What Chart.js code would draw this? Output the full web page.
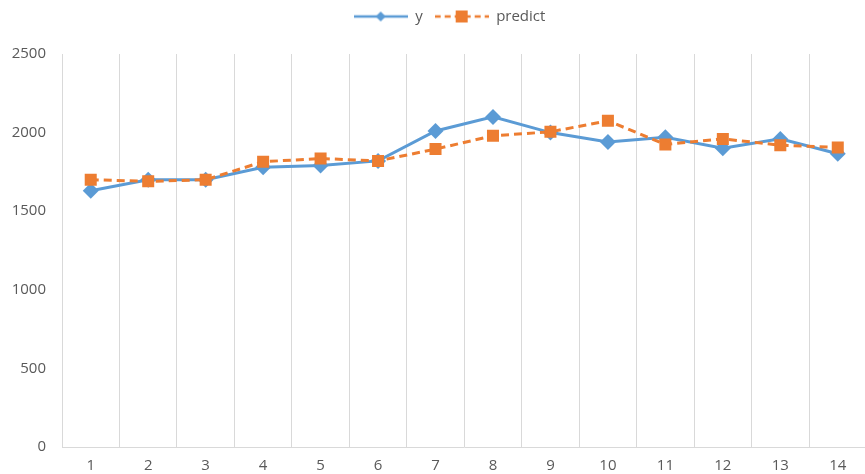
<!DOCTYPE html>
<html lang="en">
<head>
    <meta charset="UTF-8">
    <title>y vs predict</title>
    <script src="https://cdn.jsdelivr.net/npm/chart.js"></script>
    <style>
        body {
            margin: 0;
            overflow: hidden;
            background: #fff;
        }
        .chart-container {
            position: relative;
            width: 875px;
            height: 474px;
        }
    </style>
</head>
<body>
    <div class="chart-container">
        <canvas id="lineChart"></canvas>
    </div>

    <script>
        // Data
        const categories = ['1', '2', '3', '4', '5', '6', '7', '8', '9', '10', '11', '12', '13', '14'];
        const yValues = [1630, 1700, 1700, 1780, 1790, 1820, 2010, 2100, 2000, 1940, 1970, 1900, 1960, 1865];
        const predictValues = [1700, 1690, 1700, 1815, 1835, 1820, 1895, 1980, 2005, 2075, 1925, 1960, 1920, 1905];
        const yTicks = [0, 500, 1000, 1500, 2000, 2500];

        const blue = '#5B9BD5';
        const orange = '#ED7D31';
        const textGrey = '#595959';
        const gridGrey = '#D9D9D9';
        const fontFamily = '"Open Sans", sans-serif';

        // Legend swatch: a short line with the marker in the middle
        function makeSwatch(color, dashed, marker) {
            const c = document.createElement('canvas');
            c.width = 54;
            c.height = 14;
            const g = c.getContext('2d');
            g.strokeStyle = color;
            g.lineWidth = 2.5;
            if (dashed) g.setLineDash([6, 4]);
            g.beginPath();
            g.moveTo(0, 7);
            g.lineTo(54, 7);
            g.stroke();
            g.setLineDash([]);
            g.fillStyle = color;
            g.beginPath();
            if (marker === 'diamond') {
                g.moveTo(27, 2);
                g.lineTo(32, 7);
                g.lineTo(27, 12);
                g.lineTo(22, 7);
            } else {
                g.rect(21, 1, 12, 12);
            }
            g.closePath();
            g.fill();
            return c;
        }

        const swatches = [makeSwatch(blue, false, 'diamond'), makeSwatch(orange, true, 'square')];

        // Legend takes a fixed band at the top, and sits over the visible part of the plot
        const legendBand = {
            id: 'legendBand',
            beforeLayout(chart) {
                const lg = chart.legend;
                if (lg && !lg._banded) {
                    const fit = lg.fit.bind(lg);
                    lg.fit = function () {
                        fit();
                        this.height = 54;
                    };
                    lg._banded = true;
                }
            },
            afterLayout(chart) {
                const lg = chart.legend;
                lg.left += 12;
                lg.right += 12;
                lg.top -= 3;
                lg.bottom -= 3;
            }
        };

        const ctx = document.getElementById('lineChart').getContext('2d');
        new Chart(ctx, {
            type: 'line',
            data: {
                labels: categories,
                datasets: [{
                    label: 'y',
                    data: yValues,
                    borderColor: blue,
                    backgroundColor: blue,
                    borderWidth: 3,
                    pointStyle: 'rectRot',
                    pointRadius: 8,
                    pointBorderWidth: 0,
                    tension: 0,
                    order: 2
                }, {
                    label: 'predict',
                    data: predictValues,
                    borderColor: orange,
                    backgroundColor: orange,
                    borderWidth: 3,
                    borderDash: [8, 5],
                    pointStyle: 'rect',
                    pointRadius: 8.5,
                    pointBorderWidth: 0,
                    tension: 0,
                    order: 1
                }]
            },
            options: {
                responsive: true,
                maintainAspectRatio: false,
                animation: false,
                layout: {
                    padding: 0
                },
                plugins: {
                    legend: {
                        position: 'top',
                        labels: {
                            color: textGrey,
                            font: { family: fontFamily, size: 15 },
                            usePointStyle: true,
                            pointStyleWidth: 54,
                            padding: 12,
                            generateLabels(chart) {
                                return chart.data.datasets.map((ds, i) => ({
                                    text: ds.label,
                                    fontColor: textGrey,
                                    pointStyle: swatches[i],
                                    fillStyle: ds.borderColor,
                                    strokeStyle: ds.borderColor,
                                    lineWidth: 0,
                                    hidden: false,
                                    datasetIndex: i
                                }));
                            }
                        }
                    },
                    tooltip: { enabled: false }
                },
                scales: {
                    x: {
                        offset: true,
                        afterFit(scale) {
                            scale.height = 27;
                        },
                        grid: {
                            display: true,
                            offset: true,
                            color: gridGrey,
                            lineWidth: 1,
                            drawTicks: false
                        },
                        border: { display: true, color: gridGrey, width: 1 },
                        ticks: {
                            color: textGrey,
                            font: { family: fontFamily, size: 15 },
                            padding: 10,
                            maxRotation: 0
                        }
                    },
                    y: {
                        min: 0,
                        max: 2500,
                        afterBuildTicks(scale) {
                            scale.ticks = yTicks.map(v => ({ value: v }));
                        },
                        afterFit(scale) {
                            scale.width = 62;
                        },
                        grid: { display: false, drawTicks: false },
                        border: { display: false },
                        ticks: {
                            color: textGrey,
                            font: { family: fontFamily, size: 15 },
                            padding: 16,
                            callback: v => String(v)
                        }
                    }
                }
            },
            plugins: [legendBand]
        });
    </script>
</body>
</html>
